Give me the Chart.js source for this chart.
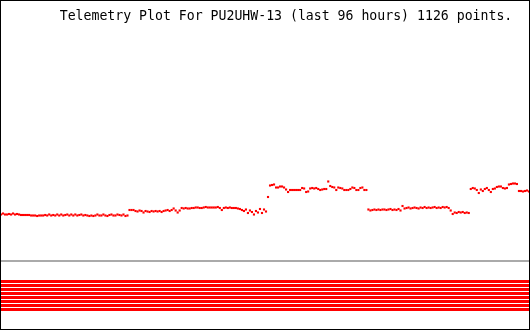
<!DOCTYPE html>
<html>
<head>
<meta charset="utf-8">
<script src="https://cdn.jsdelivr.net/npm/chart.js@4/dist/chart.umd.min.js"></script>
<style>
  html, body { margin: 0; padding: 0; background: #fff; }
  canvas { display: block; }
</style>
</head>
<body>
<canvas id="chart-telemetry" width="530" height="330"></canvas>
<script>
// Telemetry plot, last 96 hours. Values are raw counts.
const titleText = 'Telemetry Plot For PU2UHW-13 (last 96 hours) 1126 points.';

const hoursSpan = 96;
const samplesShown = 264;

// analog channel, oldest first
const analogValues = [
    46.5, 47.5, 46.5, 46.5, 47, 46.5, 47.5, 46.5, 47, 46.5, 46, 46, 46, 46, 46,
    45.5, 45.5, 45.5, 45, 45.5, 45.5, 45.5, 46, 45.5, 46.5, 45.5, 46, 45.5, 46.5, 45.5,
    46.5, 45.5, 46, 46.5, 45.5, 46.5, 45.5, 46.5, 45.5, 46, 46.5, 45.5, 46, 45.5, 45,
    45.5, 45, 45.5, 46.5, 45.5, 45.5, 46.5, 45.5, 45, 46, 46.5, 45.5, 45.5, 46.5, 46,
    45.5, 46.5, 45, 45.5,
    51, 51, 51, 50, 49.5, 50.5, 50, 48.5, 50, 49.5, 49, 50, 49.5, 50, 49.5, 50, 49,
    50, 50.5, 51, 50, 51, 52.5, 50.5, 48.5, 50.5,
    53, 52.5, 53, 52.5, 52.5, 53, 53, 53.5, 53.5, 53, 53, 53.5, 54, 53.5, 53.5, 53.5,
    53.5, 53.5, 54, 53, 51, 53, 53.5, 53, 53.5, 53, 53, 53, 52.5,
    52, 51, 50, 51.5, 48, 50.5, 49, 46.5, 50, 48.5, 52, 48, 51.5, 49.5, 64,
    75.5,
    76, 76.5, 73.5, 73.5, 74.5, 74.5, 73.5, 71.5, 69, 71, 71, 71, 71, 71, 71, 73,
    72.5, 69, 69.5, 72.5, 73, 72.5, 73, 72, 71, 71.5, 72, 72, 79.5, 75, 74, 73.5,
    71, 73.5, 73, 72.5, 71, 71, 71, 72, 73.5, 73, 71, 71, 73, 73.5, 71, 71,
    51.5, 50.5, 51, 51.5, 51, 51.5, 51, 51.5, 51.5, 51, 51.5, 52, 51, 51.5, 51, 52, 50.5,
    55, 52.5, 53, 53.5, 52.5, 53, 53.5, 53, 52.5, 53.5, 53, 54, 53, 53.5, 53, 53.5,
    54, 53, 53.5, 53, 54, 53.5, 54, 53,
    50.5, 47, 48.5, 48, 49, 48.5, 49, 48, 48.5, 48,
    72, 73, 72.5, 71, 68, 71.5, 70, 72, 73, 71, 69, 72, 72.5, 74, 74.5, 74.5, 73,
    72.5, 73, 76.5, 77, 77.5, 77.5, 77, 70, 70, 69.5, 70, 70.5, 69.5,
];

// digital bits, each drawn as a solid band
const bitLevels = [-20.5, -24.5, -28.5, -32.5, -36.5, -40.5, -44.5, -48.5];
const baselineLevel = 0;

// sample times, hours before now
const sampleHours = analogValues.map((_, i) => -hoursSpan + (i + 0.5) * hoursSpan / samplesShown);

const titlePlugin = {
    id: 'plotTitle',
    afterDraw(chart) {
        const ctx = chart.ctx;
        ctx.save();
        ctx.font = '13.2px "DejaVu Sans Mono", monospace';
        ctx.fillStyle = '#000';
        ctx.textAlign = 'center';
        ctx.textBaseline = 'alphabetic';
        ctx.fillText(titleText, 286, 20);
        ctx.restore();
    },
};

const framePlugin = {
    id: 'frame',
    afterDraw(chart) {
        const ctx = chart.ctx;
        ctx.save();
        ctx.strokeStyle = '#000';
        ctx.lineWidth = 1;
        ctx.strokeRect(0.5, 0.5, chart.width - 1, chart.height - 1);
        ctx.restore();
    },
};

const fullSpan = level => [{ x: -hoursSpan, y: level }, { x: 0, y: level }];

const datasets = [{
    label: 'Baseline',
    data: fullSpan(baselineLevel),
    showLine: true,
    borderColor: '#aaaaaa',
    borderWidth: 2,
    pointRadius: 0,
}];

bitLevels.forEach((lvl, i) => {
    datasets.push({
        label: 'Bit ' + (i + 1),
        data: fullSpan(lvl),
        showLine: true,
        borderColor: '#ff0000',
        borderWidth: 3,
        pointRadius: 0,
    });
});

datasets.push({
    label: 'Analog',
    data: analogValues.map((v, i) => ({ x: sampleHours[i], y: v })),
    showLine: false,
    pointStyle: 'rect',
    pointRadius: 1.5,
    pointBorderWidth: 0,
    backgroundColor: '#ff0000',
    borderColor: '#ff0000',
});

new Chart(document.getElementById('chart-telemetry'), {
    type: 'scatter',
    data: { datasets: datasets },
    options: {
        responsive: false,
        animation: false,
        devicePixelRatio: 1,
        layout: { padding: 0, autoPadding: false },
        plugins: {
            legend: { display: false },
            tooltip: { enabled: false },
            title: { display: false },
        },
        scales: {
            x: { type: 'linear', min: -hoursSpan, max: 0, display: false },
            y: { min: -69, max: 261, display: false },
        },
    },
    plugins: [titlePlugin, framePlugin],
});
</script>
</body>
</html>
